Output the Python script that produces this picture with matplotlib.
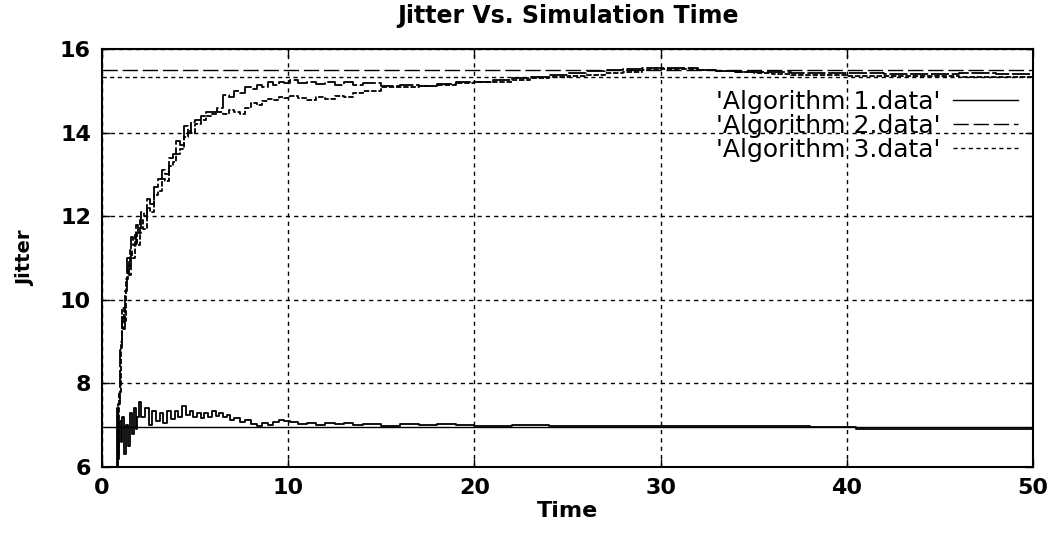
import matplotlib
matplotlib.use("Agg")
import matplotlib.pyplot as plt

# Algorithm 1: low curve settling near 7
t_alg1 = [0.7, 0.8, 0.85, 0.9, 1.0, 1.1, 1.2, 1.3, 1.4, 1.5, 1.6, 1.7, 1.8, 1.9,
          2.0, 2.1, 2.3, 2.5, 2.7, 2.9, 3.1, 3.3, 3.5, 3.7, 3.9, 4.1, 4.3, 4.5,
          4.7, 4.9, 5.1, 5.3, 5.5, 5.7, 5.9, 6.1, 6.3, 6.5, 6.7, 6.9, 7.1, 7.4,
          7.7, 8.0, 8.3, 8.6, 8.9, 9.2, 9.5, 9.8, 10.1, 10.5, 11, 11.5, 12, 12.5,
          13, 13.5, 14, 15, 16, 17, 18, 19, 20, 22, 24, 26, 28, 30, 32, 34, 36,
          38, 40, 40.5, 42, 44, 46, 48, 50]
jitter_alg1 = [6.0, 7.4, 6.2, 7.1, 6.6, 7.2, 6.3, 7.0, 6.5, 7.3, 6.8, 7.4, 6.9, 7.2,
               7.55, 7.2, 7.4, 7.0, 7.35, 7.1, 7.3, 7.05, 7.35, 7.15, 7.35, 7.2, 7.45, 7.25,
               7.35, 7.2, 7.3, 7.18, 7.28, 7.2, 7.33, 7.22, 7.3, 7.2, 7.25, 7.12, 7.18, 7.08,
               7.12, 7.02, 6.98, 7.05, 7.0, 7.08, 7.12, 7.1, 7.08, 7.04, 7.05, 7.0, 7.05, 7.02,
               7.05, 7.0, 7.02, 6.99, 7.02, 7.0, 7.03, 7.0, 6.99, 7.0, 6.98, 6.99, 6.97, 6.98,
               6.97, 6.97, 6.98, 6.96, 6.95, 6.92, 6.92, 6.9, 6.92, 6.92, 6.92]

# Algorithm 2: rising curve, upper one around t=10
t_alg2 = [0.75, 0.85, 0.95, 1.05, 1.15, 1.25, 1.35, 1.45, 1.55, 1.65, 1.8, 1.95, 2.1,
          2.25, 2.4, 2.6, 2.8, 3.0, 3.2, 3.4, 3.6, 3.8, 4.0, 4.2, 4.4, 4.6, 4.8, 5.0,
          5.3, 5.6, 5.9, 6.2, 6.4, 6.5, 6.8, 7.1, 7.4, 7.7, 8.0, 8.3, 8.6, 8.9, 9.2,
          9.5, 9.8, 10.1, 10.5, 11, 11.5, 12, 12.5, 13, 13.5, 14, 15, 16, 17, 18, 19,
          20, 21, 22, 23, 24, 25, 26, 27, 28, 29, 30, 31, 32, 33, 34, 35, 36, 37, 38,
          39, 40, 42, 44, 46, 48, 50]
jitter_alg2 = [6.0, 7.5, 8.8, 9.6, 9.3, 10.2, 11.0, 10.6, 11.5, 11.3, 11.8, 11.6, 12.1,
               12.0, 12.4, 12.3, 12.7, 12.9, 13.1, 13.0, 13.4, 13.5, 13.8, 13.7, 14.15, 14.0, 14.25, 14.3,
               14.4, 14.5, 14.5, 14.6, 14.6, 14.9, 14.85, 15.0, 14.95, 15.08, 15.05, 15.15, 15.1, 15.2, 15.15,
               15.22, 15.18, 15.25, 15.18, 15.22, 15.16, 15.22, 15.15, 15.2, 15.14, 15.18, 15.12, 15.15, 15.12, 15.16, 15.2,
               15.22, 15.26, 15.3, 15.33, 15.38, 15.42, 15.48, 15.5, 15.52, 15.55, 15.55, 15.55, 15.5, 15.48, 15.46, 15.44, 15.44, 15.43, 15.42,
               15.42, 15.42, 15.4, 15.4, 15.42, 15.4, 15.4]

# Algorithm 3: rising curve, lower one around t=10
t_alg3 = [0.8, 0.9, 1.0, 1.1, 1.2, 1.3, 1.4, 1.5, 1.6, 1.75, 1.9, 2.05, 2.2, 2.4,
          2.6, 2.8, 3.0, 3.2, 3.4, 3.6, 3.8, 4.0, 4.2, 4.4, 4.6, 4.8, 5.0, 5.3, 5.6,
          5.9, 6.2, 6.5, 6.8, 7.1, 7.4, 7.7, 8.0, 8.3, 8.6, 8.9, 9.2, 9.5, 9.8, 10.1,
          10.5, 11, 11.5, 12, 12.5, 13, 13.5, 14, 15, 16, 17, 18, 19, 20, 21, 22, 23,
          24, 25, 26, 27, 28, 29, 30, 31, 32, 33, 34, 35, 36, 37, 38, 40, 42, 44, 46,
          48, 50]
jitter_alg3 = [6.3, 7.8, 9.0, 9.8, 9.5, 10.5, 10.8, 11.2, 11.0, 11.6, 11.3, 11.9, 11.7, 12.2,
               12.1, 12.5, 12.6, 12.9, 12.85, 13.2, 13.3, 13.5, 13.6, 13.9, 14.05, 14.0, 14.2, 14.3, 14.4,
               14.45, 14.5, 14.45, 14.55, 14.5, 14.45, 14.6, 14.7, 14.65, 14.75, 14.8, 14.78, 14.85, 14.82, 14.88,
               14.82, 14.78, 14.85, 14.8, 14.88, 14.85, 14.95, 15.0, 15.08, 15.1, 15.12, 15.15, 15.18, 15.2, 15.22, 15.25, 15.3,
               15.33, 15.36, 15.38, 15.42, 15.45, 15.5, 15.52, 15.52, 15.5, 15.48, 15.45, 15.42, 15.4, 15.38, 15.38, 15.36, 15.36, 15.35, 15.34,
               15.34, 15.33]

# flat reference level per algorithm
levels = [6.95, 15.5, 15.33]
labels = ["'Algorithm 1.data'", "'Algorithm 2.data'", "'Algorithm 3.data'"]
styles = ["-", (0, (11, 3.5)), (0, (3, 2.5))]

plt.rcParams['font.family'] = ['DejaVu Sans']

fig = plt.figure(figsize=(10.59, 5.37), dpi=100)
ax = fig.add_axes([102 / 1059, 70 / 537, 931 / 1059, 418 / 537])

ax.plot(t_alg1, jitter_alg1, color="black", lw=1.3, drawstyle="steps-post")
ax.plot(t_alg2, jitter_alg2, color="black", lw=1.3, ls=(0, (10, 1.5)), drawstyle="steps-post")
ax.plot(t_alg3, jitter_alg3, color="black", lw=1.3, ls=(0, (3, 1)), drawstyle="steps-post")

handles = []
for lvl, st in zip(levels, styles):
    h = ax.axhline(lvl, color="black", lw=1.0, ls=st)
    handles.append(h)

ax.set_xlim(0, 50)
ax.set_ylim(6, 16)
ax.set_xticks([0, 10, 20, 30, 40, 50])
ax.set_yticks([6, 8, 10, 12, 14, 16])
ax.grid(True, color="black", ls=(0, (3, 3)), lw=1.0)
ax.tick_params(direction="in", length=6, width=1, top=True, right=True,
               labelsize=16, pad=8)
for lab in ax.get_xticklabels() + ax.get_yticklabels():
    lab.set_fontweight("bold")
for sp in ax.spines.values():
    sp.set_linewidth(1.5)

ax.set_title("Jitter Vs. Simulation Time", fontsize=17, fontweight="bold", pad=19)
ax.set_xlabel("Time", fontsize=16, fontweight="bold", labelpad=2)
ax.set_ylabel("Jitter", fontsize=14, fontweight="bold", labelpad=18)

ax.legend(handles, labels, loc="upper right", frameon=False, markerfirst=False,
          fontsize=18, labelspacing=0, handlelength=2.6, handletextpad=0.5,
          borderpad=0, borderaxespad=0,
          bbox_to_anchor=((1018 - 102) / 931, 1 - (90 - 49) / 418))

fig.savefig("out.png", dpi=100)
